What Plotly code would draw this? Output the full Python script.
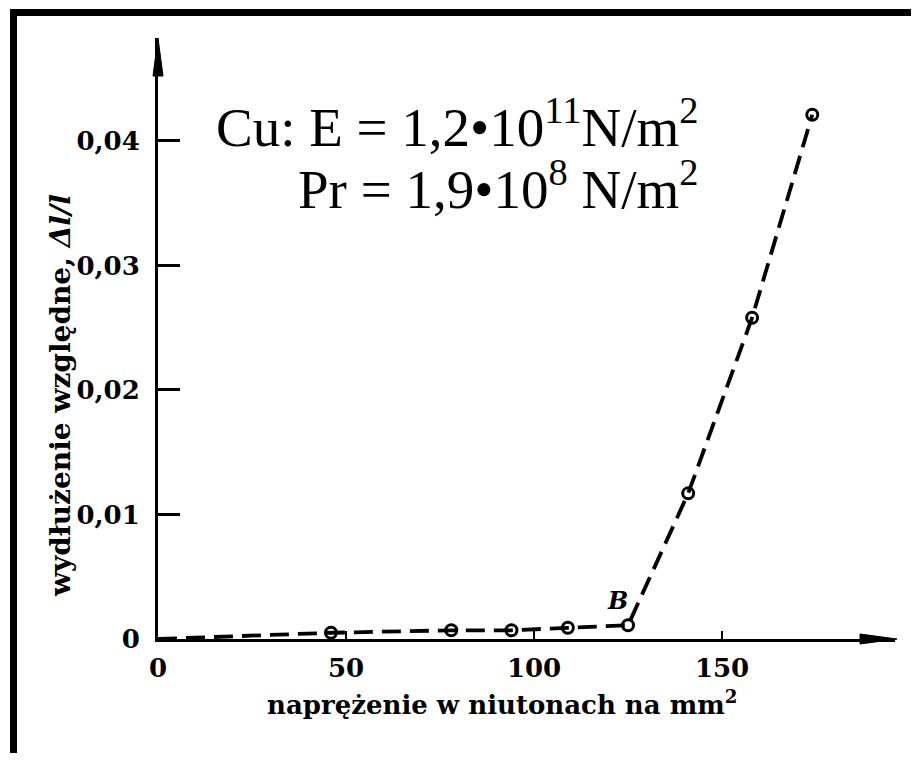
import plotly.graph_objects as go

# Data (stress in N/mm^2, relative elongation)
stress = [0, 46, 78, 94, 109, 125, 141, 158, 174]
elong = [0, 0.0005, 0.0007, 0.0007, 0.0009, 0.0011, 0.0117, 0.0258, 0.0421]

x_tickvals = [0, 50, 100, 150]
x_ticktext = ["0", "50", "100", "150"]
y_tickvals = [0, 0.01, 0.02, 0.03, 0.04]
y_ticktext = ["0", "0,01", "0,02", "0,03", "0,04"]

OFF = 8  # page body margin
W, H = 911, 745
L, T = 158 - OFF, 38 - OFF
R = W - (895 - OFF)
B = H - (639 - OFF)
pw, ph = W - L - R, H - T - B

def px(xpix):
    return (xpix - OFF - L) / pw

def py(ypix):
    return ((639 - OFF) - (ypix - OFF)) / ph

fig = go.Figure()
fig.add_trace(go.Scatter(
    x=stress, y=elong, mode="lines",
    line=dict(color="black", width=3.8, dash="19px,9px"),
    hoverinfo="skip", showlegend=False, cliponaxis=False))
fig.add_trace(go.Scatter(
    x=stress[1:], y=elong[1:], mode="markers",
    marker=dict(symbol="circle-open", size=11, color="black",
                line=dict(width=3, color="black")),
    showlegend=False, cliponaxis=False))

tickfont = dict(family="DejaVu Serif", size=26, color="black", weight="bold")

fig.update_layout(
    width=W, height=H,
    margin=dict(l=L, r=R, t=T, b=B, pad=0),
    paper_bgcolor="white", plot_bgcolor="white",
    xaxis=dict(range=[0, 196], showgrid=False, zeroline=False,
               showline=True, linecolor="black", linewidth=3,
               tickvals=x_tickvals, ticktext=x_ticktext,
               ticks="inside", ticklen=8, tickwidth=2, tickcolor="black",
               tickfont=tickfont, ticklabelstandoff=4),
    yaxis=dict(range=[0, 0.04827], showgrid=False, zeroline=False,
               showline=True, linecolor="black", linewidth=3,
               tickvals=y_tickvals, ticktext=y_ticktext,
               ticks="inside", ticklen=22, tickwidth=2.5, tickcolor="black",
               tickfont=tickfont, ticklabelstandoff=10),
    shapes=[
        # frame
        dict(type="line", xref="paper", yref="paper",
             x0=px(13.5), x1=px(13.5), y0=py(9), y1=py(780),
             line=dict(color="black", width=7)),
        dict(type="line", xref="paper", yref="paper",
             x0=px(10), x1=px(930), y0=py(12.5), y1=py(12.5),
             line=dict(color="black", width=7)),
        # arrowheads
        dict(type="path", xref="paper", yref="paper",
             path=f"M {px(158)} {py(38)} L {px(153)} {py(76)} L {px(163)} {py(76)} Z",
             fillcolor="black", line=dict(color="black", width=1)),
        dict(type="path", xref="paper", yref="paper",
             path=f"M {px(897)} {py(639)} L {px(860)} {py(634)} L {px(860)} {py(644)} Z",
             fillcolor="black", line=dict(color="black", width=1)),
    ],
    annotations=[
        dict(xref="paper", yref="paper", x=px(700), y=py(124),
             xanchor="right", yanchor="middle", showarrow=False,
             text="Cu: E = 1,2•10<sup>11</sup>N/m<sup>2</sup>",
             font=dict(family="Liberation Serif", size=55, color="black")),
        dict(xref="paper", yref="paper", x=px(700), y=py(185),
             xanchor="right", yanchor="middle", showarrow=False,
             text="Pr = 1,9•10<sup>8</sup> N/m<sup>2</sup>",
             font=dict(family="Liberation Serif", size=55, color="black")),
        dict(xref="paper", yref="paper", x=px(60), y=py(396),
             xanchor="center", yanchor="middle", showarrow=False, textangle=-90,
             text="wydłużenie względne, <i>Δl/l</i>",
             font=dict(family="DejaVu Serif", size=28, color="black", weight="bold")),
        dict(xref="paper", yref="paper", x=px(502), y=py(703),
             xanchor="center", yanchor="middle", showarrow=False,
             text="naprężenie w niutonach na mm<sup>2</sup>",
             font=dict(family="DejaVu Serif", size=26, color="black", weight="bold")),
        dict(xref="x", yref="y", x=122.3, y=0.0031,
             xanchor="center", yanchor="middle", showarrow=False,
             text="<i>B</i>",
             font=dict(family="DejaVu Serif", size=24, color="black", weight="bold")),
    ],
)

fig.write_html("out.html")
